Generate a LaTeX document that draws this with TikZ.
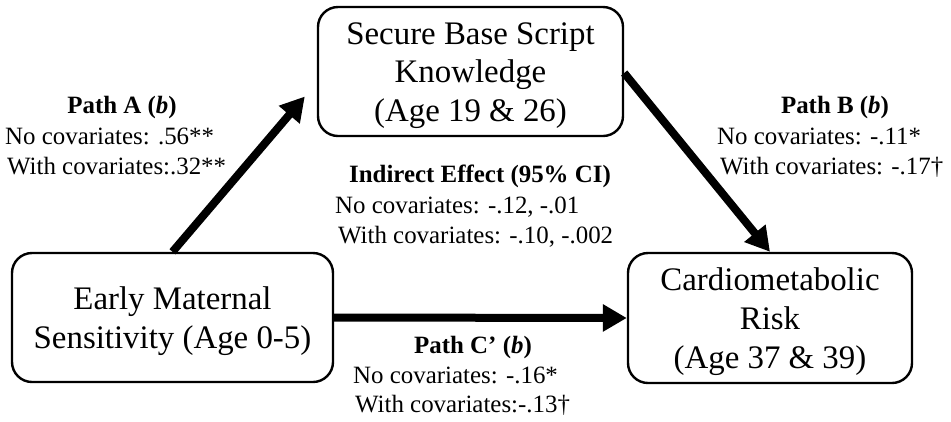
\documentclass[tikz,border=0pt]{standalone}
\usepackage{fontspec}
\setmainfont{Liberation Serif}
\usetikzlibrary{arrows.meta}
\newcommand{\boxstrut}{\rule{0pt}{30bp}}
\begin{document}
\begin{tikzpicture}[x=1bp,y=-1bp,
  box/.style={draw,line width=2.4bp,rounded corners=20bp,align=center,
    font=\fontsize{33}{39}\selectfont,inner sep=0pt},
  lab/.style={anchor=base west,inner sep=0pt,font=\fontsize{25}{30}\selectfont},
  hd/.style={anchor=base,inner sep=0pt,font=\fontsize{25}{30}\selectfont\bfseries},
  arr/.style={line width=8bp,-{Triangle[length=24bp,width=26bp]}}]
\useasboundingbox (0,0) rectangle (951,421);
% boxes
\node[box,minimum width=305bp,minimum height=129bp] (sbs) at (470.5,71.5)
  {\boxstrut Secure Base Script\\Knowledge\\(Age 19 \& 26)};
\node[box,minimum width=321bp,minimum height=129bp] (ems) at (172.5,317.5)
  {\boxstrut Early Maternal\\Sensitivity (Age 0-5)};
\node[box,minimum width=284bp,minimum height=130bp] (cmr) at (770,318)
  {\boxstrut Cardiometabolic\\Risk\\(Age 37 \& 39)};
% arrows
\coordinate (atip) at ([xshift=-12bp,yshift=-25bp]sbs.west);
\draw[arr] (ems.north) -- (atip);
\draw[arr] ([yshift=-1.5bp]sbs.east) -- (cmr.north);
\draw[arr] (ems.east) -- (cmr.west);
% Path A
\node[hd] (pah) at (122,113) {Path A (\textit{b})};
\node[lab] (pa1) at (5,144) {No covariates: .56**};
\node[lab] (pa2) at (7,174) {With covariates:.32**};
% Path B
\node[hd] (pbh) at (835,113) {Path B (\textit{b})};
\node[lab] (pb1) at (717,144) {No covariates: -.11*};
\node[lab] (pb2) at (720,174) {With covariates: -.17†};
% Indirect
\node[hd] (ieh) at (480,182) {Indirect Effect (95\% CI)};
\node[lab] (ie1) at (335,213) {No covariates: -.12, -.01};
\node[lab] (ie2) at (338,243) {With covariates: -.10, -.002};
% Path C'
\node[hd] (pch) at (473,353) {Path C’ (\textit{b})};
\node[lab] (pc1) at (353,383) {No covariates: -.16*};
\node[lab] (pc2) at (355,412) {With covariates:-.13†};
\end{tikzpicture}
\end{document}
